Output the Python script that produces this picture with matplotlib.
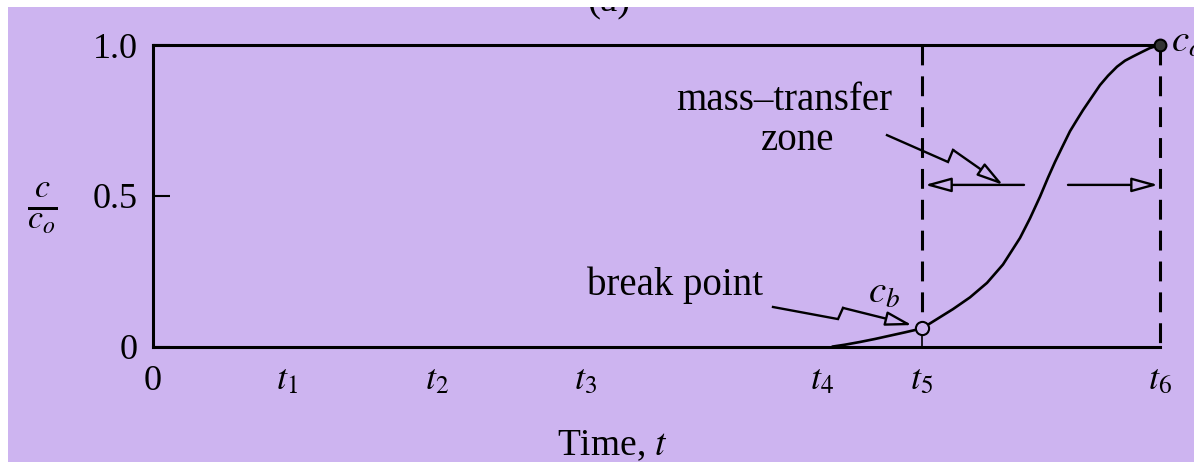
import matplotlib
matplotlib.use('Agg')
import matplotlib.pyplot as plt
from matplotlib.patches import Rectangle

plt.rcParams['font.family'] = ['Liberation Serif', 'DejaVu Serif']
plt.rcParams['mathtext.fontset'] = 'stix'

BG = '#cdb4f0'
FS = 26      # tick labels
FS_NOTE = 28  # annotations

# breakthrough curve: relative concentration c/c0 against time
time = [6.80, 6.92, 7.07, 7.22, 7.37, 7.52, 7.69, 7.84, 8.00, 8.17, 8.34,
        8.50, 8.67, 8.77, 8.87, 8.95, 9.02, 9.09, 9.17, 9.24, 9.30, 9.39,
        9.47, 9.55, 9.64, 9.72, 9.80, 9.89, 9.97, 10.07]
conc = [0.000, 0.006, 0.015, 0.025, 0.036, 0.047, 0.060, 0.091, 0.124, 0.163,
        0.211, 0.272, 0.360, 0.425, 0.497, 0.560, 0.612, 0.660, 0.714, 0.752,
        0.784, 0.828, 0.867, 0.898, 0.928, 0.948, 0.962, 0.977, 0.990, 1.000]

t_ticks = [0, 1.34, 2.84, 4.32, 6.69, 7.69, 10.07]
t_labels = ['0', r'$t_1$', r'$t_2$', r'$t_3$', r'$t_4$', r'$t_5$', r'$t_6$']
c_ticks = [0, 0.5, 1.0]
c_labels = ['0', '0.5', '1.0']

t_break, c_break = 7.69, 0.06       # break point c_b at t5
t_exhaust, c_exhaust = 10.07, 1.0   # exhaustion c_o at t6
zone_level = 0.536


def arrow(ax, xy, xytext):
    ax.annotate('', xy=xy, xytext=xytext,
                arrowprops=dict(arrowstyle='-|>,head_length=0.8,head_width=0.22',
                                mutation_scale=20, fc=BG, ec='black', lw=1.7,
                                shrinkA=0, shrinkB=0))


def zigzag_arrow(ax, xs, ys):
    ax.plot(xs[:-1], ys[:-1], color='black', lw=1.7, solid_joinstyle='miter')
    arrow(ax, (xs[-1], ys[-1]), (xs[-2], ys[-2]))


fig = plt.figure(figsize=(11.94, 4.62), dpi=100, facecolor=BG)
ax = fig.add_axes([153 / 1194, (462 - 346.5) / 462, (1160 - 153) / 1194, 301.5 / 462])
ax.set_facecolor(BG)
ax.set_xlim(0, t_exhaust)
ax.set_ylim(0, 1)

for side in ['left', 'top', 'bottom']:
    ax.spines[side].set_linewidth(2.2)
ax.spines['right'].set_visible(False)

ax.set_xticks(t_ticks)
ax.set_xticklabels(t_labels, fontsize=FS)
ax.tick_params(axis='x', length=0, pad=13)
ax.set_yticks(c_ticks)
ax.set_yticklabels(c_labels, fontsize=FS)
ax.tick_params(axis='y', direction='in', length=12, width=1.5, pad=11)

# breakthrough curve
ax.plot(time, conc, color='black', lw=1.9, clip_on=False, solid_joinstyle='round')

# dashed boundaries of the mass-transfer zone
dash = (0, (6.5, 3.6))
ax.plot([t_break, t_break], [1.0, c_break], color='black', lw=2.2, ls=dash)
ax.plot([t_break, t_break], [0, c_break], color='black', lw=1.2)
ax.plot([t_exhaust, t_exhaust], [1.0, 0], color='black', lw=2.2, ls=dash, clip_on=False)

# break point and exhaustion markers
ax.plot([t_break], [c_break], 'o', ms=9.5, mfc=BG, mec='black', mew=1.5, zorder=5)
ax.plot([t_exhaust], [c_exhaust], 'o', ms=8.5, mfc='#333333', mec='black', mew=1.5,
        clip_on=False, zorder=5)
ax.text(t_break - 0.54, c_break + 0.085, r'$c_b$', fontsize=FS_NOTE, va='baseline')
ax.text(t_exhaust + 0.11, c_exhaust - 0.023, r'$c_o$', fontsize=FS_NOTE, va='baseline',
        clip_on=False)

# zone width arrows
arrow(ax, (t_break + 0.03, zone_level), (8.71, zone_level))
arrow(ax, (t_exhaust - 0.02, zone_level), (9.15, zone_level))

# labels with zigzag pointers
ax.text(6.31, 0.784, 'mass\u2013transfer', fontsize=FS_NOTE, ha='center', va='baseline')
ax.text(6.45, 0.652, 'zone', fontsize=FS_NOTE, ha='center', va='baseline')
zigzag_arrow(ax, [7.34, 7.95, 8.00, 8.50], [0.701, 0.612, 0.652, zone_level])

ax.text(5.22, 0.171, 'break point', fontsize=FS_NOTE, ha='center', va='baseline')
zigzag_arrow(ax, [6.20, 6.85, 6.90, 7.59], [0.131, 0.091, 0.128, 0.071])

fig.text(42 / 1194, 1 - 208 / 462, r'$\frac{c}{c_o}$', fontsize=FS + 9,
         ha='center', va='center')
fig.text(612 / 1194, 1 - 455 / 462, r'Time, $t$', fontsize=27, ha='center', va='baseline')
fig.text(609 / 1194, 1 - 11 / 462, '(a)', fontsize=FS_NOTE, ha='center', va='baseline')

# paper margins of the scanned page
fig.add_artist(Rectangle((0, 1 - 7 / 462), 1, 7 / 462, transform=fig.transFigure,
                         fc='white', ec='none', zorder=20))
fig.add_artist(Rectangle((0, 0), 8 / 1194, 1, transform=fig.transFigure,
                         fc='white', ec='none', zorder=20))

fig.savefig('out.png', dpi=100, facecolor=BG)
